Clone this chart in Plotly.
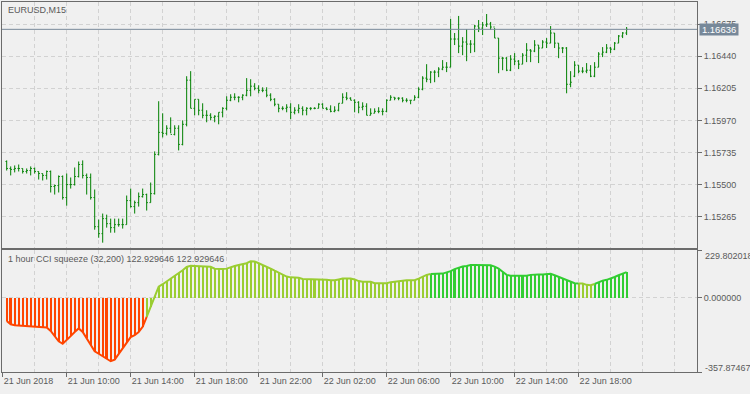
import plotly.graph_objects as go

symbol_label = "EURUSD,M15"
indicator_label = "1 hour CCI squeeze (32,200) 122.929646 122.929646"
current_price = 1.16636
price_ticks = [1.15265, 1.15500, 1.15735, 1.15970, 1.16205, 1.16440, 1.16675]
cci_max = 229.802018
cci_min = -357.874675
time_tick_bars = [0, 16, 32, 48, 64, 80, 96, 112, 128, 144]
time_tick_labels = ["21 Jun 2018", "21 Jun 10:00", "21 Jun 14:00", "21 Jun 18:00",
                    "21 Jun 22:00", "22 Jun 02:00", "22 Jun 06:00", "22 Jun 10:00",
                    "22 Jun 14:00", "22 Jun 18:00"]

open_ = [
    1.15669, 1.15618, 1.15611, 1.15618, 1.15618, 1.15596, 1.15603, 1.15618, 1.15596, 1.15581,
    1.15567, 1.15596, 1.15486, 1.15493, 1.15559, 1.15405, 1.15500, 1.15500, 1.15559, 1.15647,
    1.15567, 1.15552, 1.15405, 1.15192, 1.15141, 1.15251, 1.15214, 1.15185, 1.15207, 1.15207,
    1.15207, 1.15383, 1.15339, 1.15368, 1.15412, 1.15427, 1.15368, 1.15434, 1.15721, 1.15882,
    1.15875, 1.15912, 1.15867, 1.15912, 1.15794, 1.15941, 1.16264, 1.16058, 1.16124, 1.16044,
    1.16007, 1.16007, 1.15992, 1.16000, 1.16029, 1.16058, 1.16117, 1.16139, 1.16139, 1.16139,
    1.16154, 1.16190, 1.16220, 1.16205, 1.16190, 1.16190, 1.16154, 1.16124, 1.16088, 1.16058,
    1.16058, 1.16066, 1.16029, 1.16044, 1.16058, 1.16044, 1.16058, 1.16058, 1.16058, 1.16088,
    1.16058, 1.16051, 1.16036, 1.16044, 1.16095, 1.16139, 1.16132, 1.16117, 1.16102, 1.16066,
    1.16073, 1.16007, 1.16022, 1.16036, 1.16036, 1.16036, 1.16117, 1.16139, 1.16132, 1.16132,
    1.16117, 1.16117, 1.16117, 1.16139, 1.16198, 1.16279, 1.16271, 1.16323, 1.16323, 1.16345,
    1.16359, 1.16359, 1.16565, 1.16565, 1.16513, 1.16543, 1.16528, 1.16528, 1.16660, 1.16645,
    1.16668, 1.16675, 1.16653, 1.16572, 1.16425, 1.16425, 1.16337, 1.16418, 1.16403, 1.16381,
    1.16447, 1.16484, 1.16477, 1.16521, 1.16499, 1.16543, 1.16535, 1.16609, 1.16535, 1.16499,
    1.16499, 1.16234, 1.16293, 1.16374, 1.16330, 1.16330, 1.16337, 1.16293, 1.16359, 1.16455,
    1.16469, 1.16499, 1.16491, 1.16535, 1.16587, 1.16609,
]
high = [
    1.15677, 1.15633, 1.15640, 1.15647, 1.15618, 1.15618, 1.15633, 1.15625, 1.15596, 1.15581,
    1.15603, 1.15603, 1.15500, 1.15567, 1.15567, 1.15581, 1.15552, 1.15625, 1.15669, 1.15677,
    1.15581, 1.15581, 1.15464, 1.15244, 1.15288, 1.15280, 1.15251, 1.15251, 1.15251, 1.15251,
    1.15420, 1.15471, 1.15383, 1.15442, 1.15471, 1.15434, 1.15515, 1.15743, 1.16110, 1.16022,
    1.15934, 1.15992, 1.15934, 1.15934, 1.15970, 1.16293, 1.16330, 1.16124, 1.16124, 1.16095,
    1.16044, 1.16022, 1.16007, 1.16029, 1.16066, 1.16146, 1.16161, 1.16168, 1.16146, 1.16161,
    1.16279, 1.16271, 1.16242, 1.16227, 1.16212, 1.16212, 1.16168, 1.16132, 1.16088, 1.16073,
    1.16088, 1.16095, 1.16066, 1.16088, 1.16073, 1.16066, 1.16066, 1.16066, 1.16095, 1.16095,
    1.16066, 1.16080, 1.16073, 1.16095, 1.16168, 1.16176, 1.16139, 1.16124, 1.16110, 1.16102,
    1.16095, 1.16058, 1.16058, 1.16066, 1.16058, 1.16124, 1.16154, 1.16139, 1.16139, 1.16139,
    1.16132, 1.16117, 1.16154, 1.16212, 1.16293, 1.16381, 1.16330, 1.16337, 1.16359, 1.16411,
    1.16396, 1.16712, 1.16609, 1.16734, 1.16579, 1.16638, 1.16557, 1.16668, 1.16704, 1.16690,
    1.16748, 1.16690, 1.16645, 1.16572, 1.16433, 1.16433, 1.16447, 1.16462, 1.16411, 1.16462,
    1.16535, 1.16491, 1.16557, 1.16521, 1.16557, 1.16572, 1.16660, 1.16609, 1.16535, 1.16506,
    1.16506, 1.16330, 1.16403, 1.16374, 1.16359, 1.16389, 1.16374, 1.16396, 1.16469, 1.16506,
    1.16528, 1.16506, 1.16543, 1.16594, 1.16616, 1.16653,
]
low = [
    1.15603, 1.15567, 1.15589, 1.15596, 1.15581, 1.15581, 1.15567, 1.15581, 1.15537, 1.15530,
    1.15537, 1.15442, 1.15427, 1.15442, 1.15390, 1.15346, 1.15471, 1.15493, 1.15552, 1.15545,
    1.15427, 1.15390, 1.15170, 1.15111, 1.15075, 1.15185, 1.15148, 1.15148, 1.15192, 1.15178,
    1.15207, 1.15332, 1.15288, 1.15339, 1.15405, 1.15310, 1.15368, 1.15427, 1.15713, 1.15845,
    1.15860, 1.15875, 1.15860, 1.15750, 1.15787, 1.15926, 1.16058, 1.16007, 1.16007, 1.15985,
    1.15956, 1.15970, 1.15956, 1.15941, 1.15992, 1.16044, 1.16110, 1.16117, 1.16102, 1.16117,
    1.16146, 1.16146, 1.16190, 1.16168, 1.16176, 1.16139, 1.16110, 1.16073, 1.16029, 1.16044,
    1.16029, 1.15978, 1.16014, 1.16022, 1.16007, 1.16007, 1.16044, 1.16051, 1.16058, 1.16058,
    1.16044, 1.16029, 1.16029, 1.16036, 1.16095, 1.16117, 1.16117, 1.16029, 1.16022, 1.16044,
    1.16007, 1.16007, 1.16022, 1.16022, 1.16007, 1.16029, 1.16117, 1.16117, 1.16117, 1.16102,
    1.16102, 1.16088, 1.16117, 1.16132, 1.16190, 1.16249, 1.16242, 1.16249, 1.16286, 1.16337,
    1.16323, 1.16359, 1.16521, 1.16462, 1.16447, 1.16403, 1.16462, 1.16469, 1.16616, 1.16594,
    1.16653, 1.16631, 1.16572, 1.16315, 1.16337, 1.16330, 1.16330, 1.16374, 1.16345, 1.16381,
    1.16396, 1.16396, 1.16469, 1.16389, 1.16499, 1.16499, 1.16535, 1.16499, 1.16425, 1.16462,
    1.16168, 1.16212, 1.16286, 1.16315, 1.16315, 1.16315, 1.16286, 1.16286, 1.16359, 1.16433,
    1.16462, 1.16462, 1.16484, 1.16535, 1.16572, 1.16594,
]
close = [
    1.15618, 1.15611, 1.15618, 1.15618, 1.15596, 1.15603, 1.15618, 1.15596, 1.15581, 1.15567,
    1.15596, 1.15486, 1.15493, 1.15559, 1.15405, 1.15500, 1.15500, 1.15559, 1.15647, 1.15567,
    1.15552, 1.15405, 1.15192, 1.15141, 1.15251, 1.15214, 1.15185, 1.15207, 1.15207, 1.15207,
    1.15383, 1.15339, 1.15368, 1.15412, 1.15427, 1.15368, 1.15434, 1.15721, 1.15882, 1.15875,
    1.15912, 1.15867, 1.15912, 1.15794, 1.15941, 1.16264, 1.16058, 1.16124, 1.16044, 1.16007,
    1.16007, 1.15992, 1.16000, 1.16029, 1.16058, 1.16117, 1.16139, 1.16139, 1.16139, 1.16154,
    1.16190, 1.16220, 1.16205, 1.16190, 1.16190, 1.16154, 1.16124, 1.16088, 1.16058, 1.16058,
    1.16066, 1.16029, 1.16044, 1.16058, 1.16044, 1.16058, 1.16058, 1.16058, 1.16088, 1.16058,
    1.16051, 1.16036, 1.16044, 1.16095, 1.16139, 1.16132, 1.16117, 1.16102, 1.16066, 1.16073,
    1.16007, 1.16022, 1.16036, 1.16036, 1.16036, 1.16117, 1.16139, 1.16132, 1.16132, 1.16117,
    1.16117, 1.16117, 1.16139, 1.16198, 1.16279, 1.16271, 1.16323, 1.16323, 1.16345, 1.16359,
    1.16359, 1.16565, 1.16565, 1.16513, 1.16543, 1.16528, 1.16528, 1.16660, 1.16645, 1.16668,
    1.16675, 1.16653, 1.16572, 1.16425, 1.16425, 1.16337, 1.16418, 1.16403, 1.16381, 1.16447,
    1.16484, 1.16477, 1.16521, 1.16499, 1.16543, 1.16535, 1.16609, 1.16535, 1.16499, 1.16499,
    1.16234, 1.16249, 1.16374, 1.16330, 1.16330, 1.16337, 1.16293, 1.16359, 1.16455, 1.16469,
    1.16499, 1.16491, 1.16535, 1.16587, 1.16609, 1.16636,
]
cci = [
    -112, -128, -133, -134, -135, -136, -137, -138, -140, -142,
    -143, -160, -185, -210, -222, -205, -185, -165, -148, -165,
    -195, -230, -258, -270, -283, -295, -306, -298, -270, -240,
    -212, -190, -180, -165, -140, -92, -44, 5, 53, 65,
    78, 90, 103, 118, 132, 148, 154, 153, 152, 150,
    150, 149, 140, 138, 138, 140, 148, 153, 158, 162,
    166, 176, 175, 166, 158, 150, 140, 130, 120, 110,
    102, 98, 96, 96, 90, 90, 90, 90, 90, 88,
    87, 84, 84, 88, 92, 92, 92, 88, 80, 77,
    77, 77, 70, 70, 70, 70, 75, 78, 80, 84,
    84, 84, 84, 92, 100, 110, 114, 114, 114, 116,
    122, 128, 138, 145, 150, 153, 157, 157, 157, 156,
    156, 156, 150, 140, 125, 110, 106, 106, 106, 106,
    106, 110, 112, 112, 112, 112, 115, 108, 100, 93,
    85, 77, 70, 69, 68, 62, 60, 66, 74, 82,
    86, 92, 100, 108, 115, 122.929646,
]
# squeeze state per bar: "down", "weak", "strong"
cci_state = ["down"] * 35 + ["weak"] * 71 + ["strong"] * 37 + ["weak"] * 4 + ["strong"] * 9

state_colors = {"down": "#FF4500", "weak": "#9ACD32", "strong": "#32CD32"}

bar_x = list(range(1, len(close) + 1))

BG = "#F0F0F0"
GRID = "#D2D2D2"
AXIS = "#6B6B6B"
TXT = "#5A5A5A"
FONT = "Liberation Sans"
W, H = 750, 394
xl, xr = 2 / W, 697 / W
top_dom = [(H - 248) / H, (H - 2) / H]
bot_dom = [(H - 372) / H, (H - 250) / H]

fig = go.Figure()

fig.add_trace(go.Ohlc(
    x=bar_x, open=open_, high=high, low=low, close=close,
    increasing=dict(line=dict(color="#008000", width=1)),
    decreasing=dict(line=dict(color="#008000", width=1)),
    tickwidth=0.3, xaxis="x2", yaxis="y2", hoverinfo="skip", showlegend=False,
))

fig.add_trace(go.Bar(
    x=bar_x, y=cci, width=0.5,
    marker=dict(color=[state_colors[s] for s in cci_state], line=dict(width=0)),
    xaxis="x", yaxis="y", hoverinfo="skip", showlegend=False,
))

# line over histogram tops, coloured by run
runs = []
start = 0
for k in range(1, len(cci_state) + 1):
    if k == len(cci_state) or cci_state[k] != cci_state[start]:
        runs.append((start, k))
        start = k
for (a, b) in runs:
    end = min(b + 1, len(cci))
    fig.add_trace(go.Scatter(
        x=bar_x[a:end], y=cci[a:end], mode="lines",
        line=dict(color=state_colors[cci_state[a]], width=2),
        xaxis="x", yaxis="y", hoverinfo="skip", showlegend=False,
    ))

grid_common = dict(showgrid=True, gridcolor=GRID, griddash="4px,3px", gridwidth=1)

fig.update_layout(
    width=W, height=H, margin=dict(l=0, r=0, t=0, b=0),
    paper_bgcolor=BG, plot_bgcolor=BG, showlegend=False, bargap=0,
    font=dict(family=FONT, size=9, color=TXT),
    xaxis=dict(
        domain=[xl, xr], anchor="y", range=[-0.175, 173.6],
        tickmode="array", tickvals=time_tick_bars, ticktext=time_tick_labels,
        ticks="outside", ticklen=4, tickcolor=AXIS, ticklabelposition="outside right",
        showline=True, linecolor=AXIS, mirror=True, zeroline=False,
        minor=dict(tickmode="linear", tick0=0, dtick=8, showgrid=True,
                   gridcolor=GRID, griddash="4px,3px", ticks=""),
        rangeslider=dict(visible=False),
        tickfont=dict(family=FONT, size=9, color=TXT),
        **grid_common,
    ),
    xaxis2=dict(
        domain=[xl, xr], anchor="y2", matches="x", range=[-0.175, 173.6],
        tickmode="array", tickvals=time_tick_bars, showticklabels=False, ticks="",
        showline=True, linecolor=AXIS, mirror=True, zeroline=False,
        minor=dict(tickmode="linear", tick0=0, dtick=8, showgrid=True,
                   gridcolor=GRID, griddash="4px,3px", ticks=""),
        rangeslider=dict(visible=False),
        **grid_common,
    ),
    yaxis=dict(
        domain=bot_dom, anchor="x", side="right", range=[cci_min, cci_max],
        tickmode="array", tickvals=[cci_max, 0, cci_min], ticktext=["", "0.000000", ""],
        ticks="outside", ticklen=4, tickcolor=AXIS,
        showline=True, linecolor=AXIS, mirror=True, zeroline=False,
        tickfont=dict(family=FONT, size=9, color=TXT),
        **grid_common,
    ),
    yaxis2=dict(
        domain=top_dom, anchor="x2", side="right", range=[1.15036, 1.16836],
        tickmode="array", tickvals=price_ticks, ticktext=[f"{p:.5f}" for p in price_ticks],
        ticks="outside", ticklen=4, tickcolor=AXIS,
        showline=True, linecolor=AXIS, mirror=True, zeroline=False,
        tickfont=dict(family=FONT, size=9, color=TXT),
        **grid_common,
    ),
)

fig.add_shape(type="line", xref="x2 domain", yref="y2", x0=0, x1=1,
              y0=current_price, y1=current_price,
              line=dict(color="#778899", width=1))

fig.add_annotation(xref="paper", yref="y2", x=698.5 / W, y=current_price,
                   xanchor="left", yanchor="middle", text=f"\u2009{current_price:.5f}\u2009",
                   showarrow=False, bgcolor="#778899", borderpad=0,
                   font=dict(family=FONT, size=9.5, color="#FFFFFF"))

fig.add_annotation(xref="paper", yref="paper", x=6 / W, y=(H - 9.5) / H,
                   xanchor="left", yanchor="middle", text=symbol_label, showarrow=False,
                   font=dict(family=FONT, size=9, color=TXT))
fig.add_annotation(xref="paper", yref="paper", x=6 / W, y=(H - 259) / H,
                   xanchor="left", yanchor="middle", text=indicator_label, showarrow=False,
                   font=dict(family=FONT, size=9, color=TXT))
fig.add_annotation(xref="paper", yref="paper", x=703 / W, y=(H - 256) / H,
                   xanchor="left", yanchor="middle", text=f"{cci_max:.6f}", showarrow=False,
                   font=dict(family=FONT, size=9, color=TXT))
fig.add_annotation(xref="paper", yref="paper", x=703 / W, y=(H - 368) / H,
                   xanchor="left", yanchor="middle", text=f"{cci_min:.6f}", showarrow=False,
                   font=dict(family=FONT, size=9, color=TXT))

fig.write_html("out.html")
